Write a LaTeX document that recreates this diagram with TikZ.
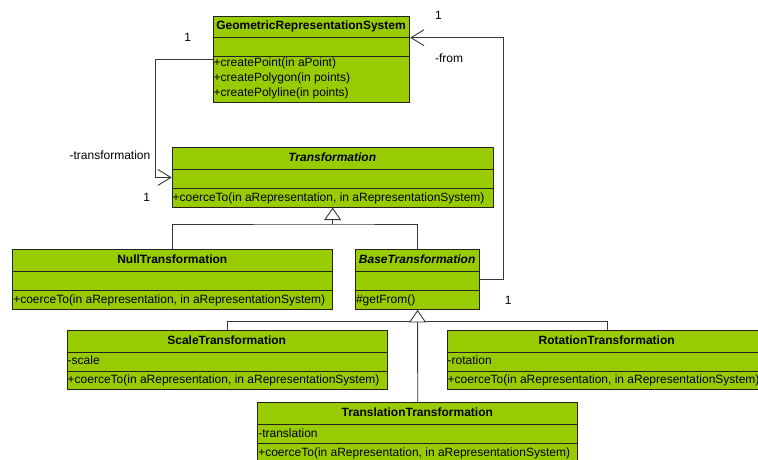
\documentclass[tikz,border=0pt]{standalone}
\usepackage{fontspec}
\setmainfont{Liberation Sans}
\usetikzlibrary{arrows.meta}

\definecolor{umlgreen}{RGB}{153,204,0}
\definecolor{edge}{RGB}{35,35,35}
\definecolor{wire}{RGB}{55,55,55}
\newcommand\umlsize{\fontsize{12}{14}\selectfont}

% class box: name, left, top, right, bottom, title, attribute, operation
\newcommand\umlclass[8]{%
  \node[classbox, minimum width={(#4-#2)*1pt}, minimum height={(#5-#3)*1pt}] (#1) at (#2,#3) {};
  \draw[divider] (#2,#3+22) -- (#4,#3+22);
  \draw[divider] (#2,#3+41) -- (#4,#3+41);
  \node[classtitle] (#1-title) at ({(#2+#4)/2},#3+11) {#6};
  \node[member] (#1-attr) at (#2,#3+31.5) {#7};
  \node[member] (#1-op) at (#2,#3+50.5) {#8};
}

\tikzset{
  classbox/.style={shape=rectangle, draw=edge, fill=umlgreen, line width=0.9pt, inner sep=0pt, anchor=north west},
  divider/.style={draw=edge, line width=0.9pt},
  classtitle/.style={font=\umlsize\bfseries, inner sep=0pt, text height=9pt, text depth=2.5pt},
  member/.style={font=\umlsize, anchor=west, inner sep=0pt, xshift=0.8pt, text height=9pt, text depth=2.5pt},
  rolelabel/.style={font=\umlsize, inner sep=0pt},
  wireline/.style={draw=wire, line width=0.9pt},
  assoc/.style={wireline, -{Straight Barb[length=13pt,width=16pt]}},
  inherit/.style={wireline, -{Triangle[open,length=12.5pt,width=17pt,fill=white]}},
}

\begin{document}
\begin{tikzpicture}[x=1pt, y=-1pt]
  \useasboundingbox (0,0) rectangle (758,459);
  \clip (0,0) rectangle (758,459);

  % classes
  \umlclass{grs}{212.7}{15.7}{409.3}{101.7}{GeometricRepresentationSystem}{}{}
  \node[member] (grs-op1) at (212.7,63.5) {+createPoint(in aPoint)};
  \node[member] (grs-op2) at (212.7,78.5) {+createPolygon(in points)};
  \node[member] (grs-op3) at (212.7,93.5) {+createPolyline(in points)};

  \umlclass{trans}{171.7}{147.3}{492.7}{206.7}{\itshape Transformation}{}{+coerceTo(in aRepresentation, in aRepresentationSystem)}
  \umlclass{null}{12.3}{249.3}{332.3}{309}{NullTransformation}{}{+coerceTo(in aRepresentation, in aRepresentationSystem)}
  \umlclass{base}{355}{249.3}{479.3}{309}{\itshape BaseTransformation}{}{\#getFrom()}
  \umlclass{scale}{66.7}{330}{386.7}{389}{ScaleTransformation}{-scale}{+coerceTo(in aRepresentation, in aRepresentationSystem)}
  \umlclass{rot}{446.7}{330}{766.7}{389}{RotationTransformation}{-rotation}{+coerceTo(in aRepresentation, in aRepresentationSystem)}
  \umlclass{transl}{257.3}{402.3}{577.3}{462}{TranslationTransformation}{-translation}{+coerceTo(in aRepresentation, in aRepresentationSystem)}

  % associations
  \draw[assoc] (grs.west) -- ++(-57,0) |- (trans.west);
  \draw[assoc] (base.east) -- ++(23,0) |- ([yshift=-22pt]grs.north east);

  % generalisation: Transformation
  \coordinate (levelA) at (0,224);
  \coordinate (busA) at (trans.south |- levelA);
  \draw[wireline] (null.north) |- (busA) -| (base.north);
  \draw[inherit] (busA) -- (trans.south);

  % generalisation: BaseTransformation
  \coordinate (levelB) at (0,321.3);
  \coordinate (busB) at (base.south |- levelB);
  \draw[wireline] (scale.north) |- (busB) -| (rot.north);
  \draw[wireline] (busB) -- (transl.north);
  \draw[inherit] (busB) -- (base.south);

  % role names and multiplicities
  \node[rolelabel] (multT) at (187.7,37.7) {1};
  \node[rolelabel] (roleT) at (110,155.7) {-transformation};
  \node[rolelabel] (multT2) at (146.7,197.3) {1};
  \node[rolelabel] (multF) at (438.5,15.7) {1};
  \node[rolelabel] (roleF) at (449,58.3) {-from};
  \node[rolelabel] (multF2) at (508.3,300) {1};
\end{tikzpicture}
\end{document}
